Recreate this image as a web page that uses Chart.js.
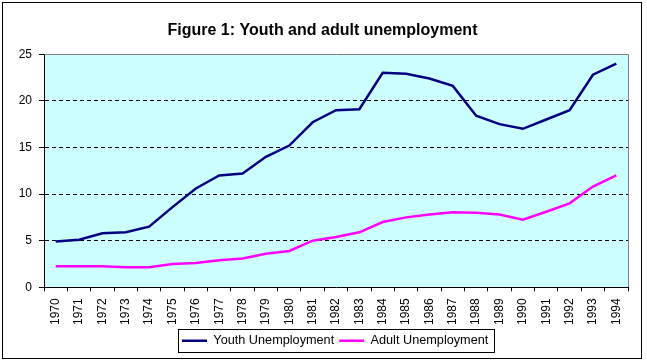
<!DOCTYPE html>
<html>
<head>
<meta charset="utf-8">
<title>Figure 1: Youth and adult unemployment</title>
<script src="https://cdn.jsdelivr.net/npm/chart.js@4.4.0/dist/chart.umd.min.js"></script>
<style>
    html, body { margin: 0; padding: 0; background: #fff; }
    #myChart { display: block; }
</style>
</head>
<body>
<canvas id="myChart" width="647" height="364"></canvas>
<script>
    "use strict";

    //* Data
    var years = ["1970", "1971", "1972", "1973", "1974", "1975", "1976", "1977", "1978", "1979",
                 "1980", "1981", "1982", "1983", "1984", "1985", "1986", "1987", "1988", "1989",
                 "1990", "1991", "1992", "1993", "1994"];
    var youthUnemployment = [4.9, 5.1, 5.8, 5.9, 6.5, 8.6, 10.6, 12.0, 12.2, 14.0,
                             15.2, 17.7, 19.0, 19.1, 23.0, 22.9, 22.4, 21.6, 18.4, 17.5,
                             17.0, 18.0, 19.0, 22.8, 24.0];
    var adultUnemployment = [2.25, 2.25, 2.25, 2.15, 2.15, 2.5, 2.6, 2.9, 3.1, 3.6,
                             3.9, 5.0, 5.4, 5.9, 7.0, 7.5, 7.8, 8.05, 8.0, 7.8,
                             7.25, 8.1, 9.0, 10.8, 12.0];
    var yTicks = [0, 5, 10, 15, 20, 25];

    var fontFamily = "'Liberation Sans', Arial, sans-serif";

    //* Excel-like frame: white page, cyan plot area, grey plot border, legend box
    var excelFrame = {
        id: 'excelFrame',
        afterLayout: function(chart) {
            var lg = chart.legend;
            var w = lg.right - lg.left;
            lg.left = 182 - lg.options.labels.padding;
            lg.right = lg.left + w;
        },
        beforeDraw: function(chart) {
            var ctx = chart.ctx, a = chart.chartArea;
            ctx.save();
            ctx.fillStyle = '#ffffff';
            ctx.fillRect(0, 0, chart.width, chart.height);
            ctx.fillStyle = '#ccffff';
            ctx.fillRect(a.left, a.top, a.right - a.left, a.bottom - a.top);
            ctx.restore();
        },
        afterDraw: function(chart) {
            var ctx = chart.ctx, a = chart.chartArea;
            ctx.save();
            // grey top and right border of the plot area
            ctx.strokeStyle = '#808080';
            ctx.lineWidth = 1;
            ctx.beginPath();
            ctx.moveTo(Math.round(a.left) + 0.5, Math.round(a.top) + 0.5);
            ctx.lineTo(Math.round(a.right) + 0.5, Math.round(a.top) + 0.5);
            ctx.lineTo(Math.round(a.right) + 0.5, Math.round(a.bottom));
            ctx.stroke();
            // legend box
            var hb = chart.legend.legendHitBoxes;
            if (hb && hb.length) {
                var last = hb[hb.length - 1];
                var x1 = Math.round(hb[0].left - 4) + 0.5;
                var x2 = Math.round(last.left + last.width + 6) + 0.5;
                var cy = hb[0].top + hb[0].height / 2;
                var y1 = Math.round(cy - 11.5) + 0.5;
                var y2 = Math.round(cy + 11.5) + 0.5;
                ctx.strokeStyle = '#000000';
                ctx.strokeRect(x1, y1, x2 - x1, y2 - y1);
            }
            // outer chart border
            ctx.strokeStyle = '#000000';
            ctx.strokeRect(2.5, 2.5, 639, 356);
            ctx.restore();
        }
    };

    var ctx = document.getElementById("myChart").getContext('2d');
    var myChart = new Chart(ctx, {
        type: 'line',
        data: {
            labels: years,
            datasets: [{
                label: 'Youth Unemployment',
                data: youthUnemployment,
                borderColor: '#000080',
                backgroundColor: '#000080',
                borderWidth: 2.5,
                pointRadius: 0,
                tension: 0,
                fill: false
            }, {
                label: 'Adult Unemployment',
                data: adultUnemployment,
                borderColor: '#ff00ff',
                backgroundColor: '#ff00ff',
                borderWidth: 2.5,
                pointRadius: 0,
                tension: 0,
                fill: false
            }]
        },
        options: {
            responsive: false,
            devicePixelRatio: 1,
            animation: false,
            layout: {
                padding: { left: 17, right: 19, top: 0, bottom: 7 }
            },
            plugins: {
                title: {
                    display: true,
                    text: 'Figure 1: Youth and adult unemployment',
                    color: '#000',
                    font: { family: fontFamily, size: 16, weight: 'bold' },
                    padding: { top: 21, bottom: 14 }
                },
                legend: {
                    display: true,
                    position: 'bottom',
                    align: 'start',
                    labels: {
                        color: '#000',
                        font: { family: fontFamily, size: 12.7 },
                        usePointStyle: true,
                        pointStyle: 'line',
                        pointStyleWidth: 25,
                        padding: 5
                    }
                },
                tooltip: { enabled: false }
            },
            scales: {
                x: {
                    type: 'category',
                    offset: true,
                    afterFit: function(s) { s.height = 42; },
                    grid: {
                        offset: true,
                        drawOnChartArea: false,
                        drawTicks: true,
                        tickLength: 4,
                        tickColor: '#000'
                    },
                    border: { display: true, color: '#000', width: 1 },
                    ticks: {
                        autoSkip: false,
                        minRotation: 90,
                        maxRotation: 90,
                        padding: 7,
                        color: '#000',
                        font: { family: fontFamily, size: 12 }
                    }
                },
                y: {
                    min: yTicks[0],
                    max: yTicks[yTicks.length - 1],
                    afterFit: function(s) { s.width = 27; },
                    afterBuildTicks: function(s) {
                        s.ticks = yTicks.map(function(v) { return { value: v }; });
                    },
                    grid: {
                        drawTicks: true,
                        tickLength: 5,
                        tickColor: '#000',
                        color: function(c) {
                            return (c.tick && c.tick.value === 25) ? 'rgba(0,0,0,0)' : '#000';
                        },
                        lineWidth: 1
                    },
                    border: { display: true, color: '#000', width: 1, dash: [4, 3] },
                    ticks: {
                        padding: 7,
                        color: '#000',
                        font: { family: fontFamily, size: 12 }
                    }
                }
            }
        },
        plugins: [excelFrame]
    });
</script>
</body>
</html>
